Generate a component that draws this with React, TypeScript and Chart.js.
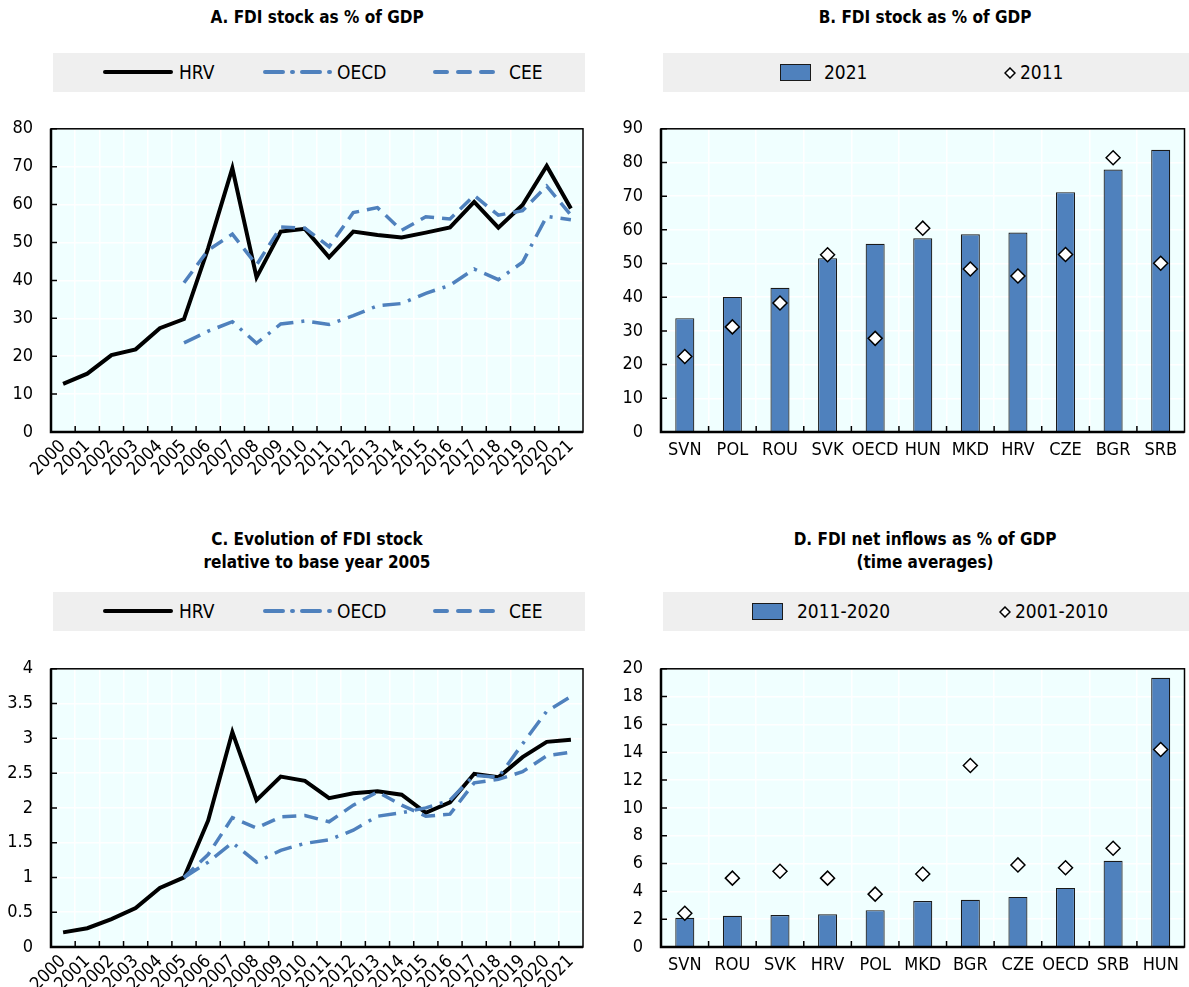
import React, { useEffect, useRef } from 'react';
import { Chart, registerables } from 'chart.js';

Chart.register(...registerables);

const FONT = "'Liberation Sans Narrow', 'Arial Narrow', 'DejaVu Sans Condensed', 'Liberation Sans', sans-serif";
const BLUE = '#4F81BD';
const PLOT_BG = '#F0FFFF';
const LEGEND_BG = '#EFEFEF';

// ---------- Data ----------
const years = ['2000', '2001', '2002', '2003', '2004', '2005', '2006', '2007', '2008', '2009', '2010',
  '2011', '2012', '2013', '2014', '2015', '2016', '2017', '2018', '2019', '2020', '2021'];

// Panel A: FDI stock as % of GDP
const stockHRV = [12.7, 15.4, 20.3, 21.8, 27.4, 29.8, 48.5, 69.6, 40.8, 52.9, 53.6, 46.1, 52.9, 52.0, 51.3, 52.6, 54.0, 60.7, 53.9, 59.9, 70.2, 59.0];
const stockOECD = [null, null, null, null, null, 23.5, 26.6, 29.1, 23.4, 28.5, 29.3, 28.4, 30.7, 33.3, 33.9, 36.6, 38.7, 43.0, 40.2, 44.8, 56.9, 56.0];
const stockCEE = [null, null, null, null, null, 39.4, 48.0, 52.2, 44.1, 54.1, 53.8, 48.9, 57.9, 59.2, 53.2, 56.8, 56.2, 62.4, 57.2, 58.4, 64.9, 57.2];

// Panel B: FDI stock as % of GDP, 2021 vs 2011
const countriesB = ['SVN', 'POL', 'ROU', 'SVK', 'OECD', 'HUN', 'MKD', 'HRV', 'CZE', 'BGR', 'SRB'];
const stock2021 = [33.8, 40.1, 42.8, 51.6, 55.9, 57.5, 58.7, 59.2, 71.2, 77.9, 83.8];
const stock2011 = [22.4, 31.2, 38.3, 52.6, 27.8, 60.5, 48.4, 46.3, 52.7, 81.4, 50.1];

// Panel C: FDI stock relative to base year 2005
const relHRV = [0.21, 0.27, 0.40, 0.56, 0.85, 1.0, 1.82, 3.09, 2.11, 2.45, 2.39, 2.14, 2.21, 2.24, 2.19, 1.93, 2.08, 2.49, 2.44, 2.73, 2.95, 2.98];
const relOECD = [null, null, null, null, null, 1.0, 1.22, 1.50, 1.22, 1.39, 1.49, 1.54, 1.68, 1.88, 1.93, 2.0, 2.11, 2.47, 2.44, 2.92, 3.39, 3.60];
const relCEE = [null, null, null, null, null, 1.0, 1.33, 1.86, 1.71, 1.87, 1.89, 1.80, 2.04, 2.23, 2.04, 1.88, 1.91, 2.36, 2.41, 2.52, 2.75, 2.80];

// Panel D: FDI net inflows as % of GDP
const countriesD = ['SVN', 'ROU', 'SVK', 'HRV', 'POL', 'MKD', 'BGR', 'CZE', 'OECD', 'SRB', 'HUN'];
const inflow2011_2020 = [2.1, 2.25, 2.3, 2.35, 2.65, 3.3, 3.4, 3.6, 4.25, 6.2, 19.35];
const inflow2001_2010 = [2.43, 4.95, 5.45, 4.95, 3.8, 5.25, 13.05, 5.9, 5.7, 7.1, 14.2];

// ---------- Plugins ----------
const framePlugin = {
  id: 'frame',
  beforeDraw(chart: any) {
    const { ctx, chartArea: a } = chart;
    ctx.save();
    ctx.fillStyle = PLOT_BG;
    ctx.fillRect(a.left, a.top, a.right - a.left, a.bottom - a.top);
    ctx.restore();
  },
  afterDraw(chart: any) {
    const { ctx, chartArea: a, scales } = chart;
    ctx.save();
    ctx.strokeStyle = '#000';
    ctx.lineWidth = 1.5;
    ctx.strokeRect(a.left, a.top, a.right - a.left, a.bottom - a.top);
    ctx.lineWidth = 2.5;
    ctx.beginPath();
    ctx.moveTo(a.left, a.top);
    ctx.lineTo(a.left, a.bottom);
    ctx.lineTo(a.right, a.bottom);
    ctx.stroke();
    ctx.lineWidth = 1.5;
    const xs = scales.x;
    const n = xs.ticks.length;
    ctx.beginPath();
    for (let i = 1; i < n; i++) {
      const px = (xs.getPixelForValue(i - 1) + xs.getPixelForValue(i)) / 2;
      ctx.moveTo(px, a.bottom);
      ctx.lineTo(px, a.bottom - 6);
    }
    const ys = scales.y;
    ys.ticks.forEach((t: any) => {
      const py = ys.getPixelForValue(t.value);
      ctx.moveTo(a.left, py);
      ctx.lineTo(a.left + 6, py);
    });
    ctx.stroke();
    ctx.restore();
  },
};

const tickFont = { family: FONT, size: 18 };

function baseScales(yMax: number, yStep: number, yW: number, xH: number, rotate: boolean) {
  return {
    x: {
      offset: true,
      grid: { offset: true, color: '#FFFFFF', lineWidth: 1.5, drawTicks: false },
      border: { display: false },
      ticks: {
        font: tickFont,
        color: '#000',
        autoSkip: false,
        minRotation: rotate ? 45 : 0,
        maxRotation: rotate ? 45 : 0,
        padding: rotate ? 4 : 8,
      },
      afterFit: (s: any) => { s.height = xH; },
    },
    y: {
      min: 0,
      max: yMax,
      grid: { color: '#FFFFFF', lineWidth: 1.5, drawTicks: false },
      border: { display: false },
      ticks: {
        stepSize: yStep, font: tickFont, color: '#000', padding: 18,
        callback: (v: any) => String(Math.round(Number(v) * 100) / 100),
      },
      afterFit: (s: any) => { s.width = yW; },
    },
  };
}

const commonPlugins = {
  legend: { display: false },
  title: { display: false },
  tooltip: { enabled: false },
};

function lineConfig(hrv: any[], oecd: any[], cee: any[], yMax: number, yStep: number, padTop: number, xH: number) {
  return {
    type: 'line',
    data: {
      labels: years,
      datasets: [
        { label: 'OECD', data: oecd, borderColor: BLUE, borderWidth: 3.5, borderDash: [18, 8, 3, 8], pointRadius: 0, tension: 0 },
        { label: 'CEE', data: cee, borderColor: BLUE, borderWidth: 3.5, borderDash: [14, 8], pointRadius: 0, tension: 0 },
        { label: 'HRV', data: hrv, borderColor: '#000', borderWidth: 4, pointRadius: 0, tension: 0 },
      ],
    },
    options: {
      responsive: false,
      animation: false,
      layout: { padding: { top: padTop, right: 17, left: 0, bottom: 0 } },
      plugins: commonPlugins,
      scales: baseScales(yMax, yStep, 51, xH, true),
    },
    plugins: [framePlugin],
  };
}

function barConfig(cats: string[], bars: number[], diamonds: number[], barLabel: string, dLabel: string, yMax: number, yStep: number, padTop: number, xH: number) {
  return {
    type: 'bar',
    data: {
      labels: cats,
      datasets: [
        {
          type: 'line', label: dLabel, data: diamonds, showLine: false,
          pointStyle: 'rectRot', pointRadius: 7, pointBackgroundColor: '#FFFFFF',
          pointBorderColor: '#000', pointBorderWidth: 1.5, order: 0,
        },
        {
          type: 'bar', label: barLabel, data: bars, backgroundColor: BLUE,
          borderColor: '#1A1A1A', borderWidth: 1.2, barPercentage: 0.4, categoryPercentage: 1, order: 1,
        },
      ],
    },
    options: {
      responsive: false,
      animation: false,
      layout: { padding: { top: padTop, right: 0, left: 0, bottom: 0 } },
      plugins: commonPlugins,
      scales: baseScales(yMax, yStep, 61, xH, false),
    },
    plugins: [framePlugin],
  };
}

function ChartCanvas({ config, left, top, width, height }: any) {
  const ref = useRef<HTMLCanvasElement | null>(null);
  useEffect(() => {
    if (!ref.current) return;
    const chart = new Chart(ref.current, config);
    return () => chart.destroy();
  }, []);
  return (
    <canvas
      ref={ref}
      width={width}
      height={height}
      style={{ position: 'absolute', left, top, width, height }}
    />
  );
}

function Title({ lines, center, top }: any) {
  return (
    <div style={{
      position: 'absolute', left: center - 250, top, width: 500, textAlign: 'center',
      fontFamily: FONT, fontWeight: 'bold', fontSize: 17, lineHeight: '23px', color: '#000',
    }}>
      {lines.map((l: string, i: number) => <div key={i}>{l}</div>)}
    </div>
  );
}

function LineSample({ dash, color, width }: any) {
  return (
    <svg width={70} height={8} style={{ display: 'block' }}>
      <line x1={2} y1={4} x2={68} y2={4} stroke={color} strokeWidth={width}
        strokeDasharray={dash || undefined} strokeLinecap="round" />
    </svg>
  );
}

const legendText: any = { fontFamily: FONT, fontSize: 19, color: '#000', position: 'absolute', top: 0, lineHeight: '39px', whiteSpace: 'nowrap' };

function LineLegend({ left, top, width }: any) {
  const item = (x: number, tx: number, label: string, sample: any) => (
    <React.Fragment key={label}>
      <div style={{ position: 'absolute', left: x, top: 15 }}>{sample}</div>
      <div style={{ ...legendText, left: tx }}>{label}</div>
    </React.Fragment>
  );
  return (
    <div style={{ position: 'absolute', left, top, width, height: 39, background: LEGEND_BG }}>
      {item(50, 126, 'HRV', <LineSample color="#000" width={4} />)}
      {item(210, 284, 'OECD', <LineSample color={BLUE} width={4} dash="18 9 1 9" />)}
      {item(380, 456, 'CEE', <LineSample color={BLUE} width={4} dash="12 11" />)}
    </div>
  );
}

function BarLegend({ left, top, width, barLabel, dLabel, swX, txX, dX, dtX }: any) {
  return (
    <div style={{ position: 'absolute', left, top, width, height: 39, background: LEGEND_BG }}>
      <div style={{ position: 'absolute', left: swX, top: 11, width: 29, height: 15, background: BLUE, border: '1px solid #1A1A1A' }} />
      <div style={{ ...legendText, left: txX }}>{barLabel}</div>
      <svg width={12} height={12} style={{ position: 'absolute', left: dX, top: 14 }}>
        <polygon points="6,1 11,6 6,11 1,6" fill="#FFFFFF" stroke="#000" strokeWidth={1.5} />
      </svg>
      <div style={{ ...legendText, left: dtX }}>{dLabel}</div>
    </div>
  );
}

export default function App() {
  return (
    <div style={{ position: 'absolute', left: 0, top: 0, width: 1189, height: 987, overflow: 'hidden', background: '#FFFFFF' }}>
      <Title lines={['A. FDI stock as % of GDP']} center={317} top={6} />
      <Title lines={['B. FDI stock as % of GDP']} center={925} top={6} />
      <LineLegend left={53} top={53} width={532} />
      <BarLegend left={663} top={53} width={526} barLabel="2021" dLabel="2011" swX={117} txX={161} dX={341} dtX={357} />
      <ChartCanvas config={lineConfig(stockHRV, stockOECD, stockCEE, 80, 10, 23, 63)} left={0} top={100} width={600} height={395} />
      <ChartCanvas config={barConfig(countriesB, stock2021, stock2011, '2021', '2011', 90, 10, 23, 63)} left={600} top={100} width={593} height={395} />

      <Title lines={['C. Evolution of FDI stock', 'relative to base year 2005']} center={317} top={528} />
      <Title lines={['D. FDI net inflows as % of GDP', '(time averages)']} center={925} top={528} />
      <LineLegend left={53} top={592} width={532} />
      <BarLegend left={663} top={592} width={526} barLabel="2011-2020" dLabel="2001-2010" swX={89} txX={134} dX={336} dtX={352} />
      <ChartCanvas config={lineConfig(relHRV, relOECD, relCEE, 4, 0.5, 22, 40)} left={0} top={640} width={600} height={347} />
      <ChartCanvas config={barConfig(countriesD, inflow2011_2020, inflow2001_2010, '2011-2020', '2001-2010', 20, 2, 22, 40)} left={600} top={640} width={593} height={347} />
    </div>
  );
}
